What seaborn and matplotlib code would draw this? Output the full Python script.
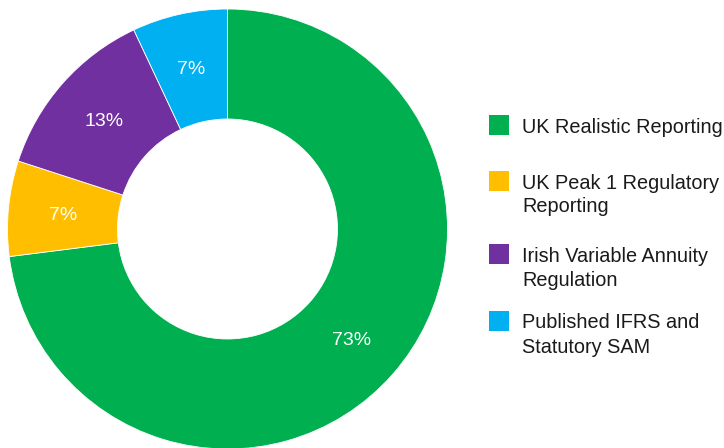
import matplotlib
matplotlib.use("Agg")
import matplotlib.pyplot as plt
from matplotlib.patches import Rectangle
import seaborn as sns

categories = ["UK Realistic Reporting",
              "UK Peak 1 Regulatory\nReporting",
              "Irish Variable Annuity\nRegulation",
              "Published IFRS and\nStatutory SAM"]
shares = [73, 7, 13, 7]
colors = sns.color_palette(["#00B050", "#FFBF00", "#7030A0", "#00B0F0"])

sns.set_theme(style="white")
plt.rcParams['font.family'] = ['Liberation Sans', 'DejaVu Sans']

W, H = 724, 448
fig = plt.figure(figsize=(W / 100, H / 100), dpi=100)

# donut: centre (227.5, 229) px, radius 220 px
cx, cy, r = 227.5, 229, 220
ax = fig.add_axes([(cx - r) / W, (H - cy - r) / H, 2 * r / W, 2 * r / H])
wedges, texts, autotexts = ax.pie(
    shares, colors=colors, startangle=90, counterclock=False,
    autopct=lambda p: f"{p:.0f}%", pctdistance=0.75,
    wedgeprops=dict(width=0.5, edgecolor="white", linewidth=0.6),
    textprops=dict(color="white", fontsize=14))
for t in autotexts:
    t.set_va("center_baseline")
ax.set_xlim(-1, 1)
ax.set_ylim(-1, 1)
ax.set_aspect("equal")

# legend drawn by hand so the swatch lines up with the first text line
ys = [125, 181, 254, 321]
line_gap = 24
for col, lab, y in zip(colors, categories, ys):
    fig.add_artist(Rectangle((489 / W, (H - y - 10) / H), 20 / W, 20 / H,
                             transform=fig.transFigure, color=col, lw=0))
    for i, line in enumerate(lab.split("\n")):
        fig.text(522 / W, (H - y - 7.5 - i * line_gap) / H, line,
                 fontsize=14.3, va="baseline", ha="left", color="#1a1a1a")

fig.savefig("out.png", dpi=100)
